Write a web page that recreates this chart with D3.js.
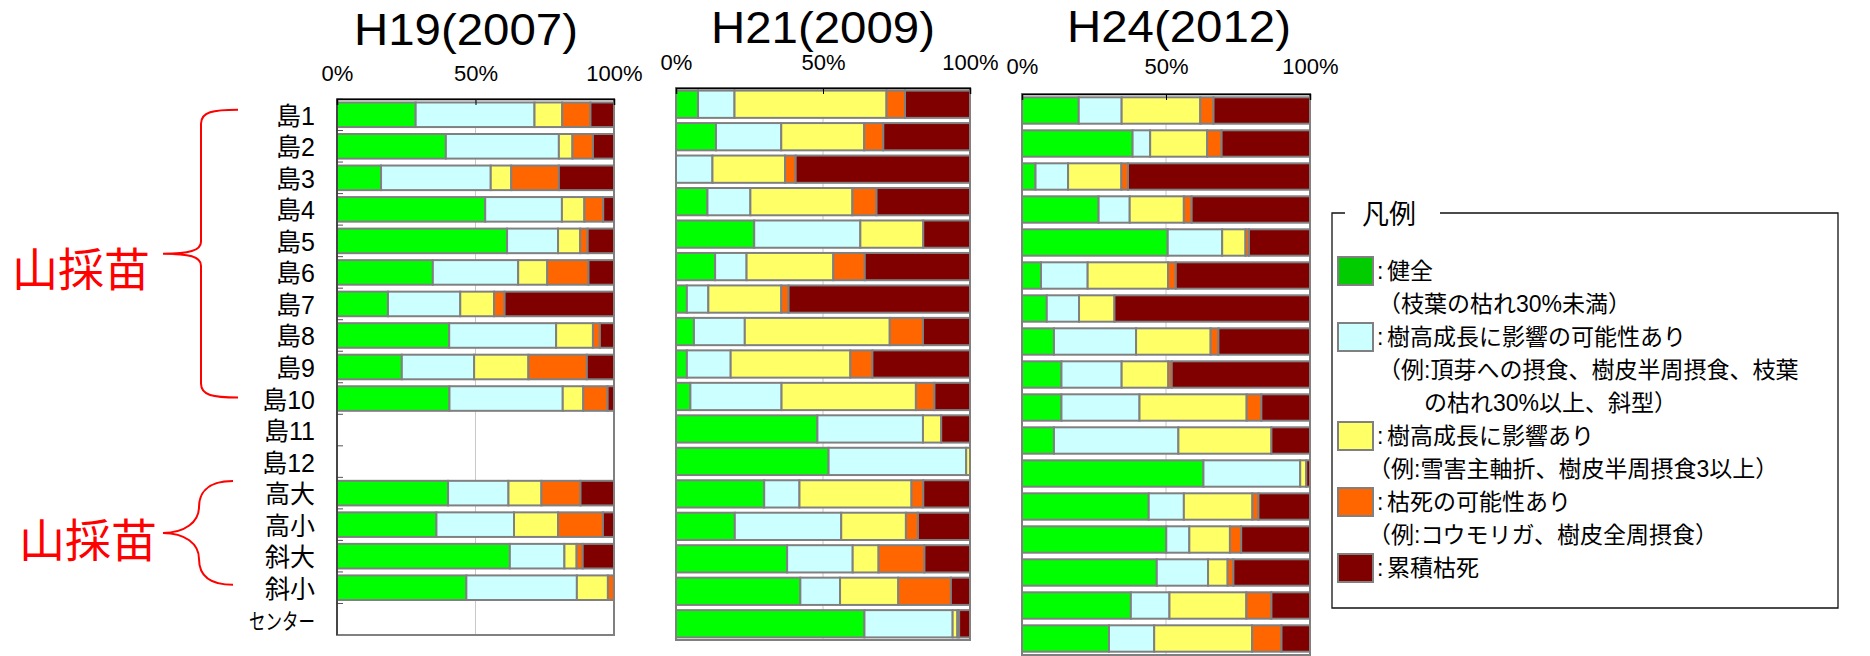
<!DOCTYPE html>
<html>
<head>
<meta charset="utf-8">
<script src="https://cdn.jsdelivr.net/npm/d3@7"></script>
<style>
  body { margin: 0; background: #fff; }
  svg { display: block; }
</style>
</head>
<body>
<svg id="chart" width="1870" height="656"></svg>
<script>
// categories (rows, top to bottom)
const categories = ['島1', '島2', '島3', '島4', '島5', '島6', '島7', '島8', '島9', '島10',
  '島11', '島12', '高大', '高小', '斜大', '斜小', 'センター']
const statuses = ['健全', '樹高成長に影響の可能性あり', '樹高成長に影響あり', '枯死の可能性あり', '累積枯死']
const barColors = ['#00ff00', '#ccffff', '#ffff66', '#ff6600', '#800000']
const swatchColors = ['#00cc00', '#ccffff', '#ffff66', '#ff6600', '#800000']
const tickValues = [0, 50, 100]
const legendNotes = [
  ['（枝葉の枯れ30%未満）'],
  ['（例:頂芽への摂食、樹皮半周摂食、枝葉', 'の枯れ30%以上、斜型）'],
  ['（例:雪害主軸折、樹皮半周摂食3以上）'],
  ['（例:コウモリガ、樹皮全周摂食）'],
  []
]

// share (%) per row: 健全, 影響の可能性, 影響あり, 枯死の可能性, 累積枯死 (null = no survey)
const h19 = [
  [28.4, 42.9, 10.0, 10.2, 8.5],
  [39.3, 40.8, 4.9, 7.4, 7.6],
  [15.9, 39.6, 7.4, 17.2, 19.9],
  [53.5, 27.7, 8.1, 6.8, 3.9],
  [61.4, 18.4, 8.0, 2.7, 9.5],
  [34.6, 30.8, 10.5, 14.9, 9.2],
  [18.4, 26.1, 12.2, 3.8, 39.5],
  [40.5, 38.6, 13.3, 2.5, 5.1],
  [23.4, 26.1, 19.6, 21.1, 9.8],
  [40.6, 40.9, 7.4, 8.8, 2.3],
  null,
  null,
  [40.1, 21.8, 11.9, 14.1, 12.1],
  [35.9, 28.0, 15.9, 16.2, 4.0],
  [62.4, 19.7, 4.4, 2.2, 11.3],
  [46.7, 39.9, 11.2, 2.2, 0],
  null
]
const h21 = [
  [7.5, 12.4, 51.7, 6.3, 22.1],
  [13.6, 22.2, 28.2, 6.5, 29.5],
  [0, 12.4, 24.7, 3.6, 59.3],
  [10.7, 14.6, 34.7, 8.2, 31.8],
  [26.6, 36.1, 21.4, 0, 15.9],
  [13.3, 10.7, 29.5, 10.7, 35.8],
  [3.7, 7.3, 24.8, 2.5, 61.7],
  [6.1, 17.3, 49.3, 11.3, 16.0],
  [3.7, 14.9, 40.7, 7.5, 33.2],
  [4.9, 31.0, 45.7, 6.3, 12.1],
  [48.1, 35.9, 6.2, 0, 9.8],
  [51.9, 46.8, 1.3, 0, 0],
  [30.0, 12.0, 38.1, 4.0, 15.9],
  [20.0, 36.2, 22.0, 4.1, 17.7],
  [37.8, 22.3, 8.8, 15.6, 15.5],
  [42.3, 13.5, 19.8, 17.9, 6.5],
  [64.1, 30.0, 1.6, 0.6, 3.7]
]
const h24 = [
  [19.7, 14.9, 27.3, 4.6, 33.5],
  [38.4, 6.1, 19.8, 5.0, 30.7],
  [4.7, 11.3, 18.5, 2.3, 63.2],
  [26.6, 10.8, 18.8, 2.7, 41.1],
  [50.6, 18.9, 8.1, 1.2, 21.2],
  [6.6, 16.2, 27.9, 2.7, 46.6],
  [8.6, 11.2, 12.3, 0, 67.9],
  [11.1, 28.5, 25.9, 2.7, 31.8],
  [13.7, 20.9, 16.2, 1.2, 48.0],
  [13.7, 27.1, 37.2, 5.1, 16.9],
  [11.1, 43.2, 32.3, 0, 13.4],
  [63.0, 33.6, 2.1, 0, 1.3],
  [44.0, 12.2, 23.8, 2.1, 17.9],
  [50.1, 8.0, 14.1, 3.9, 23.9],
  [46.8, 17.8, 6.8, 2.0, 26.6],
  [37.8, 13.4, 26.7, 8.7, 13.4],
  [30.2, 15.7, 34.0, 10.2, 9.9]
]

const LATIN = '"Liberation Sans", Arial, sans-serif'
const CJK = '"Liberation Sans", "Noto Sans CJK JP", sans-serif'
const BORDER = '#808080'

const panels = [
  { title: 'H19(2007)', data: h19, x0: 337, x1: 614, y0: 99, y1: 635, pad: 0.22, titleX: 466, titleY: 45, tickY: 81, labels: true },
  { title: 'H21(2009)', data: h21, x0: 676, x1: 970, y0: 88, y1: 640, pad: 0.16, titleX: 823, titleY: 43, tickY: 70 },
  { title: 'H24(2012)', data: h24, x0: 1022, x1: 1310, y0: 94, y1: 655, pad: 0.2, titleX: 1179, titleY: 42, tickY: 74 },
]

const svg = d3.select('#chart')

let yLabels = null

panels.forEach(p => {
  const g = svg.append('g')

  const x = d3.scaleLinear().domain([0, 100]).range([p.x0, p.x1])
  const y = d3.scaleBand()
    .domain(categories)
    .range([p.y0, p.y1])
    .paddingInner(p.pad)
    .paddingOuter(p.pad / 2)
  if (p.labels) yLabels = y

  // 50% grid line
  g.append('line')
    .attr('x1', x(50)).attr('x2', x(50))
    .attr('y1', p.y0).attr('y2', p.y1)
    .attr('stroke', '#c8c8c8')
    .attr('stroke-width', 1)

  // rows -> stacked segments (normalised to 100%)
  const rows = categories
    .map((c, i) => ({ cat: c, vals: p.data[i] }))
    .filter(r => r.vals)
  const stack = d3.stack()
    .keys(d3.range(statuses.length))
    .value((r, k) => r.vals[k] / d3.sum(r.vals) * 100)
  const series = stack(rows)

  g.append('g')
    .selectAll('g')
    .data(series)
    .join('g')
      .attr('fill', s => barColors[s.key])
    .selectAll('rect')
    .data(s => s.filter(d => d[1] - d[0] > 0.05))
    .join('rect')
      .attr('x', d => x(d[0]))
      .attr('width', d => x(d[1]) - x(d[0]))
      .attr('y', d => y(d.data.cat))
      .attr('height', y.bandwidth())
      .attr('stroke', BORDER)
      .attr('stroke-width', 2)

  // frame
  g.append('rect')
    .attr('x', p.x0).attr('y', p.y0)
    .attr('width', p.x1 - p.x0).attr('height', p.y1 - p.y0)
    .attr('fill', 'none')
    .attr('stroke', BORDER)
    .attr('stroke-width', 2)

  if (p.labels) {
    // category axis with tiny ticks between rows
    const step = y.step()
    g.append('g')
      .selectAll('line')
      .data(d3.range(categories.length))
      .join('line')
        .attr('x1', p.x0).attr('x2', p.x0 + 6)
        .attr('y1', i => p.y0 + i * step).attr('y2', i => p.y0 + i * step)
        .attr('stroke', '#555')
        .attr('stroke-width', 1)
    g.append('line')
      .attr('x1', p.x0).attr('x2', p.x0)
      .attr('y1', p.y0).attr('y2', p.y1)
      .attr('stroke', '#333')
      .attr('stroke-width', 1.5)

    g.append('g')
      .selectAll('text')
      .data(categories)
      .join('text')
        .attr('x', 315)
        .attr('y', d => y(d) + y.bandwidth() / 2 + 10)
        .attr('text-anchor', 'end')
        .attr('font-family', CJK)
        .attr('font-size', d => d === 'センター' ? 22 : 25)
        .attr('textLength', d => d === 'センター' ? 66 : null)
        .attr('lengthAdjust', 'spacingAndGlyphs')
        .attr('fill', '#000')
        .text(d => d)
  }

  // top axis
  const axis = d3.axisTop(x)
    .tickValues(tickValues)
    .tickFormat(d => d + '%')
    .tickSizeInner(-6)
    .tickSizeOuter(-6)
    .tickPadding(p.y0 - p.tickY)
  const ax = g.append('g')
    .attr('transform', `translate(0,${p.y0})`)
    .call(axis)
  ax.attr('font-family', LATIN).attr('font-size', 22)
  ax.select('.domain').attr('stroke', '#000').attr('stroke-width', 1.5)
  ax.selectAll('.tick line').attr('stroke', '#000')
  ax.selectAll('.tick text').attr('fill', '#000')

  // title
  g.append('text')
    .attr('x', p.titleX)
    .attr('y', p.titleY)
    .attr('text-anchor', 'middle')
    .attr('font-family', LATIN)
    .attr('font-size', 45)
    .attr('textLength', 224)
    .attr('lengthAdjust', 'spacingAndGlyphs')
    .text(p.title)
})

// group labels with braces
const bandMid = c => yLabels(c) + yLabels.bandwidth() / 2
const groups = [
  { label: '山採苗', from: '島1', to: '島10', dTop: -5, dBot: -1, round: false, lx: 12, ly: 286 },
  { label: '山採苗', from: '高大', to: '斜小', dTop: -12, dBot: -3, round: true, lx: 19, ly: 557 },
]
groups.forEach(gr => {
  const t = bandMid(gr.from) + gr.dTop
  const b = bandMid(gr.to) + gr.dBot
  const m = (t + b) / 2
  let d
  if (!gr.round) {
    const xe = 238, xv = 201, xt = 163
    d = `M${xe},${t} C${xv + 12},${t} ${xv},${t + 2} ${xv},${t + 14} L${xv},${m - 12}
         C${xv},${m - 3} ${xv - 12},${m} ${xt},${m} C${xv - 12},${m} ${xv},${m + 3} ${xv},${m + 12}
         L${xv},${b - 14} C${xv},${b - 2} ${xv + 12},${b} ${xe},${b}`
  } else {
    const xe = 233, xv = 199, xt = 163
    d = `M${xe},${t} C${xv + 6},${t} ${xv},${t + 14} ${xv},${t + 26}
         C${xv},${m - 11} ${xv - 14},${m} ${xt},${m} C${xv - 14},${m} ${xv},${m + 11} ${xv},${m + 26}
         C${xv},${b - 13} ${xv + 6},${b} ${xe},${b}`
  }
  svg.append('path')
    .attr('d', d)
    .attr('fill', 'none')
    .attr('stroke', '#ff0000')
    .attr('stroke-width', 2)
  svg.append('text')
    .attr('x', gr.lx)
    .attr('y', gr.ly)
    .attr('font-family', CJK)
    .attr('font-size', 46)
    .attr('fill', '#ff0000')
    .text(gr.label)
})

// legend
const LG = { left: 1332, top: 213, right: 1838, bottom: 608, gapL: 1345, gapR: 1440 }
svg.append('path')
  .attr('d', `M${LG.gapL},${LG.top} H${LG.left} V${LG.bottom} H${LG.right} V${LG.top} H${LG.gapR}`)
  .attr('fill', 'none')
  .attr('stroke', '#111')
  .attr('stroke-width', 1.3)
svg.append('text')
  .attr('x', 1362).attr('y', 224)
  .attr('font-family', CJK)
  .attr('font-size', 27)
  .text('凡例')

const LINE_H = 33
const FIRST_LINE = 271
let line = 0
const legend = svg.append('g')
  .attr('font-family', CJK)
  .attr('font-size', 23)
  .attr('fill', '#000')
statuses.forEach((s, i) => {
  const cy = FIRST_LINE + line * LINE_H
  legend.append('rect')
    .attr('x', 1338).attr('y', cy - 14)
    .attr('width', 35).attr('height', 28)
    .attr('fill', swatchColors[i])
    .attr('stroke', BORDER)
    .attr('stroke-width', 2)
  legend.append('text').attr('x', 1377).attr('y', cy + 8).text(':')
  legend.append('text').attr('x', 1387).attr('y', cy + 8).text(s)
  line++
  legendNotes[i].forEach((n, j) => {
    const ny = FIRST_LINE + line * LINE_H
    const nx = j > 0 ? 1424 : (i < 2 ? 1378 : 1368)
    legend.append('text').attr('x', nx).attr('y', ny + 8).text(n)
    line++
  })
})
</script>
</body>
</html>
